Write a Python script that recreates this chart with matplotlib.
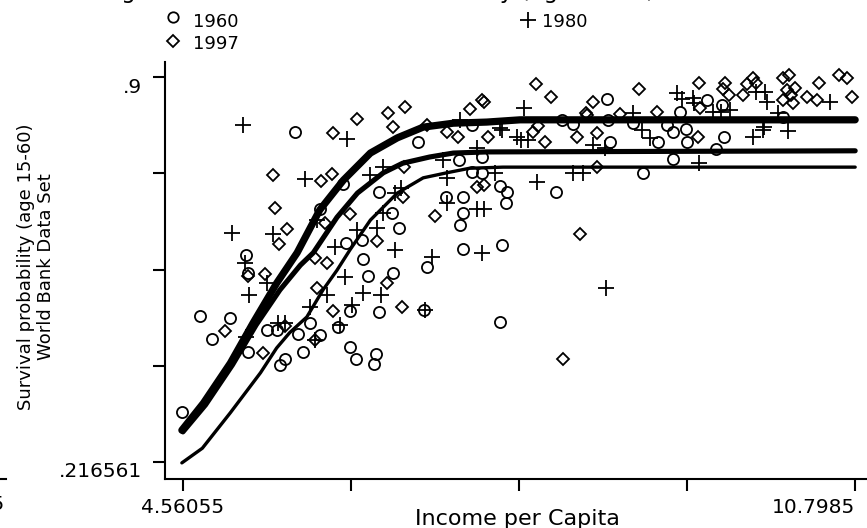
import matplotlib
matplotlib.use('Agg')
import matplotlib.pyplot as plt
import matplotlib.transforms as mtransforms
import numpy as np

# scatter data (log income per capita, survival probability)
x1960 = [5.60, 6.74, 6.05, 6.38, 5.83, 6.50, 6.57, 6.22, 6.07, 6.23, 5.15, 7.12, 7.34, 7.24,
         7.34, 7.50, 7.57, 7.56, 7.00, 7.16, 7.16, 7.13, 7.16, 7.52, 7.24, 6.28, 6.51, 6.83,
         5.16, 4.72, 5.00, 4.83, 5.34, 5.43, 5.63, 5.74, 6.11, 6.00, 6.38, 6.80, 7.50, 5.16,
         5.83, 5.67, 5.51, 5.46, 6.11, 6.17, 6.35, 6.33, 4.55, 8.50, 9.42, 9.56, 9.17, 8.08,
         8.18, 8.51, 8.74, 9.05, 9.11, 9.23, 9.24, 8.97, 8.52, 9.58, 9.51, 9.11, 8.83, 8.02,
         10.13]
y1960 = [0.802, 0.785, 0.710, 0.696, 0.666, 0.659, 0.632, 0.611, 0.605, 0.577, 0.584, 0.753,
         0.758, 0.731, 0.730, 0.706, 0.696, 0.676, 0.687, 0.687, 0.659, 0.637, 0.595, 0.602,
         0.815, 0.547, 0.552, 0.563, 0.552, 0.476, 0.472, 0.435, 0.451, 0.451, 0.444, 0.463,
         0.485, 0.456, 0.483, 0.486, 0.465, 0.412, 0.442, 0.412, 0.399, 0.389, 0.421, 0.399,
         0.408, 0.391, 0.305, 0.861, 0.859, 0.850, 0.838, 0.824, 0.817, 0.824, 0.818, 0.815,
         0.802, 0.808, 0.785, 0.785, 0.785, 0.793, 0.772, 0.754, 0.730, 0.696, 0.829]

x1980 = [5.12, 6.08, 5.69, 5.02, 5.40, 6.30, 6.42, 6.58, 6.53, 7.01, 6.97, 7.01, 7.29, 7.35,
         7.29, 7.46, 7.50, 7.13, 5.80, 6.18, 6.36, 6.42, 5.97, 6.53, 6.87, 7.34, 7.66, 5.14,
         5.34, 5.17, 6.06, 5.90, 6.23, 6.40, 5.74, 6.13, 6.81, 5.44, 5.51, 6.02, 5.15, 5.79,
         9.15, 9.19, 9.29, 9.30, 9.88, 9.96, 9.98, 10.57, 8.74, 8.82, 8.90, 9.48, 9.55, 9.64,
         10.08, 9.85, 9.94, 9.95, 10.18, 7.70, 7.76, 7.73, 8.48, 8.37, 8.18, 8.27, 7.85, 9.35,
         7.52, 8.49]
y1980 = [0.815, 0.790, 0.719, 0.623, 0.621, 0.726, 0.740, 0.703, 0.694, 0.721, 0.753, 0.676,
         0.666, 0.666, 0.774, 0.730, 0.809, 0.824, 0.646, 0.628, 0.632, 0.659, 0.598, 0.593,
         0.581, 0.588, 0.793, 0.570, 0.534, 0.513, 0.545, 0.513, 0.517, 0.513, 0.492, 0.495,
         0.486, 0.463, 0.463, 0.460, 0.438, 0.433, 0.872, 0.861, 0.863, 0.854, 0.873, 0.873,
         0.856, 0.856, 0.836, 0.806, 0.792, 0.838, 0.838, 0.841, 0.836, 0.793, 0.806, 0.811,
         0.804, 0.788, 0.788, 0.845, 0.774, 0.779, 0.730, 0.730, 0.714, 0.747, 0.806, 0.525]

x1997 = [5.95, 6.18, 6.46, 6.62, 6.51, 5.40, 5.84, 5.94, 5.41, 5.53, 5.45, 6.11, 6.36, 6.90,
         6.61, 6.60, 6.83, 7.01, 7.11, 7.22, 7.35, 7.34, 7.39, 7.29, 7.35, 5.88, 5.79, 5.90,
         5.16, 5.32, 6.45, 5.80, 6.59, 5.95, 4.95, 5.30, 5.51, 5.79, 7.84, 7.98, 8.79, 8.37,
         9.35, 9.59, 9.57, 9.63, 9.76, 9.80, 9.85, 9.88, 10.13, 10.19, 10.17, 10.24, 10.20,
         10.22, 10.35, 10.45, 10.46, 10.65, 10.72, 10.77, 10.13, 9.36, 8.96, 8.62, 8.30, 7.81,
         7.92, 8.22, 8.40, 8.40, 9.34, 8.25, 7.86, 8.31, 8.09]
y1997 = [0.801, 0.825, 0.836, 0.847, 0.811, 0.726, 0.715, 0.728, 0.667, 0.630, 0.604, 0.657,
         0.609, 0.653, 0.740, 0.687, 0.815, 0.802, 0.793, 0.843, 0.856, 0.859, 0.793, 0.705,
         0.708, 0.641, 0.579, 0.570, 0.547, 0.550, 0.534, 0.525, 0.492, 0.485, 0.449, 0.410,
         0.458, 0.433, 0.888, 0.865, 0.879, 0.856, 0.889, 0.889, 0.879, 0.868, 0.868, 0.888,
         0.898, 0.889, 0.898, 0.904, 0.877, 0.880, 0.868, 0.854, 0.865, 0.859, 0.889, 0.904,
         0.898, 0.865, 0.859, 0.845, 0.838, 0.834, 0.836, 0.802, 0.785, 0.793, 0.801, 0.740,
         0.793, 0.621, 0.813, 0.833, 0.399]

# fitted curves
fx1960 = [4.55, 4.74, 5.00, 5.28, 5.43, 5.55, 5.71, 5.86, 5.99, 6.11, 6.30, 6.55, 6.79, 7.01,
          7.22, 7.53, 10.80]
fy1960 = [0.215, 0.241, 0.304, 0.375, 0.419, 0.446, 0.474, 0.522, 0.557, 0.593, 0.646, 0.694,
          0.721, 0.730, 0.738, 0.740, 0.740]
fx1980 = [4.56, 4.77, 5.02, 5.24, 5.46, 5.65, 5.77, 5.99, 6.18, 6.42, 6.60, 6.85, 7.07, 7.38,
          10.80]
fy1980 = [0.270, 0.318, 0.389, 0.460, 0.522, 0.566, 0.588, 0.651, 0.694, 0.730, 0.747, 0.758,
          0.765, 0.767, 0.769]
fx1997 = [4.55, 4.75, 5.00, 5.21, 5.43, 5.62, 5.83, 6.05, 6.30, 6.55, 6.79, 7.07, 7.38, 7.69,
          10.80]
fy1997 = [0.273, 0.321, 0.392, 0.463, 0.534, 0.588, 0.664, 0.717, 0.765, 0.792, 0.811, 0.818,
          0.820, 0.824, 0.824]

xtick_lab = ['4.56055', '', '', '', '10.7985']
ytick_lab = ['.216561', '', '', '', '.9']
xmin, xmax = 4.56055, 10.7985
ymin, ymax = 0.216561, 0.9

W, H = 867, 528
fig = plt.figure(figsize=(W / 100, H / 100), dpi=100)
ax = fig.add_axes([165 / W, 1 - 479 / H, 705 / W, 417 / H])

mk = dict(ls='none', mfc='none', mec='black', clip_on=False)
ax.plot(x1960, y1960, 'o', ms=8, mew=1.3, **mk)
ax.plot(x1980, y1980, '+', ms=11, mew=1.3, color='black', ls='none', clip_on=False)
ax.plot(x1997, y1997, 'D', ms=6.5, mew=1.3, **mk)

ln = dict(color='black', solid_capstyle='round', solid_joinstyle='round')
ax.plot(fx1997, fy1997, lw=5.2, **ln)
ax.plot(fx1980, fy1980, lw=3.7, **ln)
ax.plot(fx1960, fy1960, lw=2.4, **ln)

ax.set_xlim(4.3935, 10.9376)
ax.set_ylim(0.18638, 0.92664)
ax.set_xticks(np.linspace(xmin, xmax, 5))
ax.set_xticklabels(xtick_lab)
ax.set_yticks(np.linspace(ymin, ymax, 5))
ax.set_yticklabels(ytick_lab)
ax.get_xticklabels()[-1].set_ha('right')

for s in ['top', 'right']:
    ax.spines[s].set_visible(False)
for s in ['left', 'bottom']:
    ax.spines[s].set_linewidth(1.5)
ax.tick_params(direction='out', length=8.5, width=1.5, labelsize=14.5)
ax.tick_params(axis='x', pad=5)
ax.tick_params(axis='y', pad=8)
# the y labels sit a little below their ticks in the original
shift = mtransforms.ScaledTranslation(0, -0.08, fig.dpi_scale_trans)
for lab in ax.get_yticklabels():
    lab.set_transform(lab.get_transform() + shift)

# axis titles
fig.text(517 / W, 1 - 519 / H, 'Income per Capita', ha='center', va='center', fontsize=16)
fig.text(36 / W, 1 - 267 / H, 'Survival probability (age 15-60)\nWorld Bank Data Set',
         rotation=90, ha='center', va='center', multialignment='center', fontsize=13,
         linespacing=1.2)

# title, mostly cut off at the top edge
fig.text(348 / W, 1 + 2 / H, 'Convergence in Adult Survival Probability (age 15-60)',
         ha='center', va='baseline', fontsize=16.5)

# legend and leftover pieces of the neighbouring panel, in pixel coordinates
ov = fig.add_axes([0, 0, 1, 1])
ov.set_xlim(0, W)
ov.set_ylim(H, 0)
ov.axis('off')
ov.patch.set_alpha(0)
ov.plot(173, 17, 'o', ms=7.5, mew=1.3, **mk)
ov.plot(528, 20, '+', ms=11, mew=1.3, color='black')
ov.plot(173, 41, 'D', ms=6, mew=1.3, **mk)
ov.text(193, 22, '1960', va='center', fontsize=13)
ov.text(542, 22, '1980', va='center', fontsize=13)
ov.text(193, 44, '1997', va='center', fontsize=13)
ov.plot([0, 6], [479, 479], color='black', lw=1.5)
ov.text(5, 505, '10.7985', ha='right', va='center', fontsize=14.5)

fig.savefig('out.png', dpi=100)
